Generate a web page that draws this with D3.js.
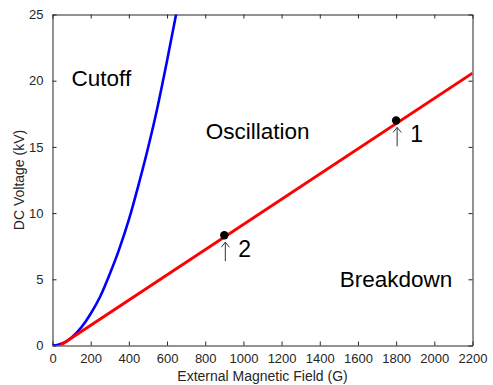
<!DOCTYPE html>
<html>
<head>
<meta charset="utf-8">
<script src="https://cdn.jsdelivr.net/npm/d3@7"></script>
<style>
  body { margin: 0; background: #fff; }
  svg text { font-family: "Liberation Sans", Arial, sans-serif; }
</style>
</head>
<body>
<svg id="chart" width="493" height="385"></svg>
<script>
// data
const cutoffB = [0, 25, 50, 75, 100, 150, 200, 250, 300, 350, 400, 450, 500, 550, 600, 650, 700];
const cutoffV = [0, 0.04, 0.15, 0.33, 0.6, 1.35, 2.4, 3.7, 5.4, 7.3, 9.5, 12.1, 14.9, 18.0, 21.5, 25.2, 29.2];
const breakdownB = [40, 2200];
const breakdownV = [0, 20.57];
const opPoints = [{ b: 1800, v: 17.0, label: '1' }, { b: 900, v: 8.33, label: '2' }];
const xTicks = [0, 200, 400, 600, 800, 1000, 1200, 1400, 1600, 1800, 2000, 2200];
const yTicks = [0, 5, 10, 15, 20, 25];
const regions = [
  { text: 'Cutoff', b: 100, v: 19.6 },
  { text: 'Oscillation', b: 803, v: 15.6 },
  { text: 'Breakdown', b: 1505, v: 4.4 }
];

const svg = d3.select('#chart');
const mLeft = 52.5, mRight = 472.5, mTop = 14.5, mBottom = 345.5;

const x = d3.scaleLinear().domain([0, 2200]).range([mLeft, mRight]);
const y = d3.scaleLinear().domain([0, 25]).range([mBottom, mTop]);

svg.append('clipPath').attr('id', 'clip')
  .append('rect').attr('x', mLeft).attr('y', mTop)
  .attr('width', mRight - mLeft).attr('height', mBottom - mTop);

// 坐标轴（刻度朝内）
const tickColor = '#262626';
const fmt = d3.format('d');
const xAxis = svg.append('g').attr('transform', `translate(0,${mBottom})`)
  .call(d3.axisBottom(x).tickValues(xTicks).tickFormat(fmt).tickSizeInner(-4).tickSizeOuter(0).tickPadding(8));
const xTop = svg.append('g').attr('transform', `translate(0,${mTop})`)
  .call(d3.axisTop(x).tickValues(xTicks).tickSizeInner(-4).tickSizeOuter(0).tickFormat(''));
const yAxis = svg.append('g').attr('transform', `translate(${mLeft},0)`)
  .call(d3.axisLeft(y).tickValues(yTicks).tickFormat(fmt).tickSizeInner(-4).tickSizeOuter(0).tickPadding(9));
const yRight = svg.append('g').attr('transform', `translate(${mRight},0)`)
  .call(d3.axisRight(y).tickValues(yTicks).tickSizeInner(-4).tickSizeOuter(0).tickFormat(''));

[xAxis, xTop, yAxis, yRight].forEach(g => {
  g.select('.domain').attr('stroke', tickColor);
  g.selectAll('.tick line').attr('stroke', tickColor);
  g.selectAll('.tick text').attr('fill', tickColor).style('font-size', '13px')
    .style('font-family', '"Liberation Sans", Arial, sans-serif');
});

svg.append('text')
  .attr('x', (mLeft + mRight) / 2).attr('y', 381)
  .attr('text-anchor', 'middle').attr('fill', tickColor)
  .style('font-size', '14px')
  .text('External Magnetic Field (G)');

svg.append('text')
  .attr('transform', `translate(24,${(mTop + mBottom) / 2}) rotate(-90)`)
  .attr('text-anchor', 'middle').attr('fill', tickColor)
  .style('font-size', '14px')
  .text('DC Voltage (kV)');

// curves
const plot = svg.append('g').attr('clip-path', 'url(#clip)');

const line = d3.line().x(d => x(d[0])).y(d => y(d[1])).curve(d3.curveMonotoneX);

plot.append('path')
  .datum(cutoffB.map((b, i) => [b, cutoffV[i]]))
  .attr('d', line)
  .attr('fill', 'none').attr('stroke', '#0000ff').attr('stroke-width', 2.6);

plot.append('path')
  .datum(breakdownB.map((b, i) => [b, breakdownV[i]]))
  .attr('d', line)
  .attr('fill', 'none').attr('stroke', '#ff0000').attr('stroke-width', 3);

// region labels
svg.selectAll('.region').data(regions).enter().append('text')
  .attr('class', 'region')
  .attr('x', d => x(d.b)).attr('y', d => y(d.v))
  .attr('fill', '#000').style('font-size', '22.5px')
  .text(d => d.text);

// operating points with arrows
const pts = svg.selectAll('.pt').data(opPoints).enter().append('g').attr('class', 'pt');
pts.append('circle')
  .attr('cx', d => x(d.b)).attr('cy', d => y(d.v)).attr('r', 4.2)
  .attr('fill', '#000');
pts.append('line')
  .attr('x1', d => x(d.b) + 1).attr('x2', d => x(d.b) + 1)
  .attr('y1', d => y(d.v) + 7).attr('y2', d => y(d.v) + 26)
  .attr('stroke', '#333').attr('stroke-width', 1);
pts.append('path')
  .attr('d', d => {
    const cx = x(d.b) + 1, cy = y(d.v) + 7;
    return `M${cx - 4},${cy + 5}L${cx},${cy}L${cx + 4},${cy + 5}`;
  })
  .attr('fill', 'none').attr('stroke', '#333').attr('stroke-width', 1);
pts.append('text')
  .attr('x', d => x(d.b) + 14).attr('y', d => y(d.v) + 22)
  .attr('fill', '#000').style('font-size', '23px')
  .text(d => d.label);
</script>
</body>
</html>
